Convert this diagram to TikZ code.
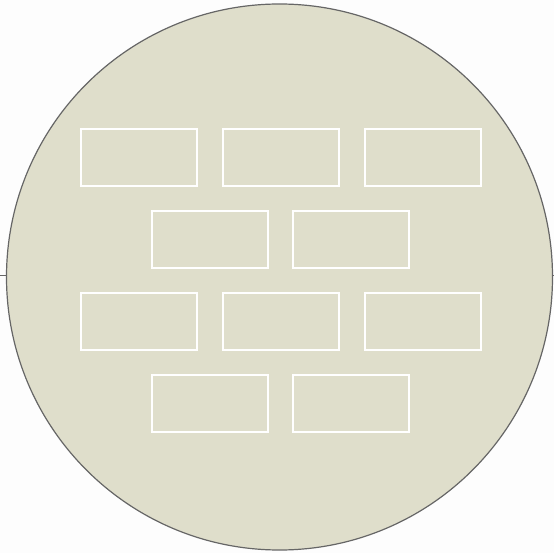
\documentclass[tikz,border=0pt]{standalone}
\begin{document}
\begin{tikzpicture}[x=1pt,y=-1pt,
  brick/.style={draw=white,line width=2pt,minimum width=116pt,minimum height=57pt,inner sep=0pt,outer sep=0pt}]
\definecolor{disk}{HTML}{DFDECB}
\definecolor{rim}{HTML}{666666}
\definecolor{bg}{HTML}{FDFDFD}
\fill[bg] (0,0) rectangle (554,553);
\useasboundingbox (0,0) rectangle (554,553);
\coordinate (L) at (0,276);
\coordinate (R) at (554,276);
\draw[rim,line width=1pt] (L) -- (R);
\node[circle,draw=rim,fill=disk,line width=1.2pt,minimum size=546pt,inner sep=0pt] (disk) at (279.5,277) {};
\node[brick] (a1) at (138.5,157.5) {};
\node[brick] (a2) at (280.5,157.5) {};
\node[brick] (a3) at (422.5,157.5) {};
\node[brick] (b1) at (210,239.5) {};
\node[brick] (b2) at (350.5,239.5) {};
\node[brick] (c1) at (138.5,321.5) {};
\node[brick] (c2) at (280.5,321.5) {};
\node[brick] (c3) at (422.5,321.5) {};
\node[brick] (d1) at (210,403.5) {};
\node[brick] (d2) at (350.5,403.5) {};
\end{tikzpicture}
\end{document}
